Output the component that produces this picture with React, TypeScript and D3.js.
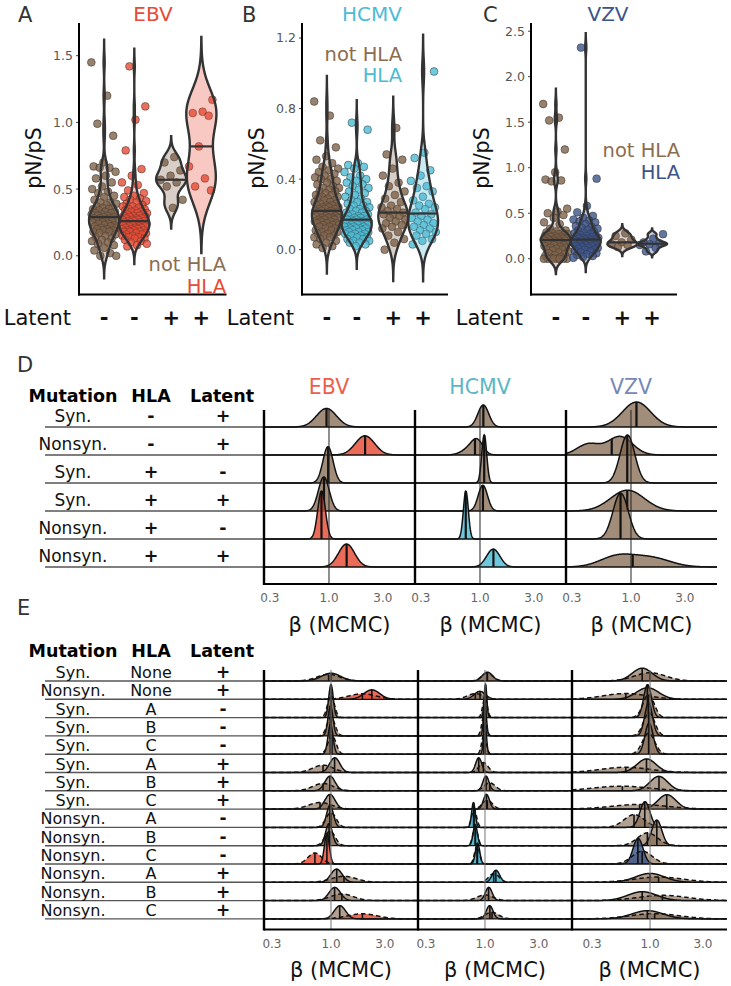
import React from "react";
import * as d3 from "d3";

const FONT = "'DejaVu Sans', Verdana, sans-serif";
const BROWN = "#7E6148";
const BROWN_TXT = "#8B6D52";
const EBV_C = "#E64B35";
const HCMV_C = "#4DBBD5";
const VZV_C = "#3C5488";

// ---------------- Panels A–C : pN/pS values ----------------
const latentLevels = ["-", "+"];
const hlaLevels = ["not HLA", "HLA"];

const ebvNotHlaNeg = [1.45, 1.2, 0.99, 0.9, 0.7, 0.67, 0.66, 0.66, 0.63, 0.6, 0.58, 0.55, 0.52, 0.5, 0.48, 0.47, 0.45, 0.44, 0.42, 0.4, 0.4, 0.39, 0.38, 0.37, 0.36, 0.36, 0.35, 0.35, 0.34, 0.33, 0.33, 0.32, 0.32, 0.31, 0.31, 0.3, 0.3, 0.29, 0.29, 0.28, 0.28, 0.28, 0.27, 0.27, 0.26, 0.26, 0.25, 0.25, 0.24, 0.24, 0.23, 0.23, 0.22, 0.22, 0.21, 0.21, 0.2, 0.2, 0.19, 0.19, 0.18, 0.18, 0.17, 0.16, 0.15, 0.14, 0.13, 0.12, 0.11, 0.1, 0.09, 0.08, 0.06, 0.04, 0.02, 0.0, 0.0];
const ebvHlaNeg = [1.42, 1.12, 1.02, 0.79, 0.65, 0.6, 0.55, 0.53, 0.49, 0.47, 0.45, 0.44, 0.43, 0.42, 0.41, 0.4, 0.39, 0.38, 0.37, 0.37, 0.36, 0.35, 0.35, 0.34, 0.34, 0.33, 0.33, 0.32, 0.32, 0.31, 0.31, 0.3, 0.3, 0.3, 0.29, 0.29, 0.28, 0.28, 0.28, 0.27, 0.27, 0.27, 0.26, 0.26, 0.26, 0.25, 0.25, 0.25, 0.24, 0.24, 0.24, 0.23, 0.23, 0.23, 0.22, 0.22, 0.22, 0.21, 0.21, 0.21, 0.2, 0.2, 0.2, 0.19, 0.19, 0.19, 0.18, 0.18, 0.18, 0.17, 0.17, 0.16, 0.16, 0.15, 0.15, 0.14, 0.14, 0.13, 0.13, 0.12, 0.11, 0.1, 0.09, 0.08, 0.07];
const ebvNotHlaPos = [0.74, 0.7, 0.64, 0.6, 0.57, 0.55, 0.52, 0.42, 0.36];
const ebvHlaPos = [1.17, 1.08, 1.07, 1.05, 0.82, 0.67, 0.58, 0.52, 0.49];

const hcmvNotHlaNeg = [0.84, 0.76, 0.62, 0.58, 0.53, 0.51, 0.49, 0.47, 0.46, 0.45, 0.44, 0.43, 0.42, 0.41, 0.4, 0.4, 0.39, 0.38, 0.37, 0.36, 0.35, 0.35, 0.34, 0.33, 0.33, 0.32, 0.31, 0.31, 0.3, 0.3, 0.29, 0.29, 0.28, 0.28, 0.27, 0.27, 0.26, 0.26, 0.25, 0.25, 0.25, 0.24, 0.24, 0.24, 0.23, 0.23, 0.23, 0.22, 0.22, 0.22, 0.21, 0.21, 0.21, 0.21, 0.2, 0.2, 0.2, 0.2, 0.19, 0.19, 0.19, 0.18, 0.18, 0.18, 0.18, 0.17, 0.17, 0.17, 0.16, 0.16, 0.16, 0.15, 0.15, 0.15, 0.14, 0.14, 0.14, 0.13, 0.13, 0.12, 0.12, 0.11, 0.11, 0.1, 0.1, 0.09, 0.09, 0.08, 0.08, 0.07, 0.07, 0.06, 0.05, 0.04, 0.03, 0.02, 0.01];
const hcmvHlaNeg = [0.72, 0.68, 0.49, 0.48, 0.47, 0.46, 0.44, 0.42, 0.41, 0.4, 0.39, 0.38, 0.37, 0.36, 0.35, 0.34, 0.33, 0.32, 0.31, 0.3, 0.29, 0.28, 0.27, 0.27, 0.26, 0.25, 0.25, 0.24, 0.23, 0.23, 0.22, 0.22, 0.21, 0.21, 0.2, 0.2, 0.19, 0.19, 0.19, 0.18, 0.18, 0.18, 0.17, 0.17, 0.17, 0.17, 0.16, 0.16, 0.16, 0.16, 0.15, 0.15, 0.15, 0.15, 0.14, 0.14, 0.14, 0.14, 0.13, 0.13, 0.13, 0.13, 0.12, 0.12, 0.12, 0.12, 0.11, 0.11, 0.11, 0.1, 0.1, 0.1, 0.09, 0.09, 0.09, 0.08, 0.08, 0.07, 0.07, 0.06, 0.06, 0.05, 0.05, 0.04, 0.04, 0.03, 0.02];
const hcmvNotHlaPos = [0.69, 0.54, 0.51, 0.46, 0.42, 0.38, 0.36, 0.33, 0.31, 0.29, 0.27, 0.25, 0.24, 0.23, 0.22, 0.21, 0.2, 0.2, 0.19, 0.18, 0.17, 0.16, 0.15, 0.14, 0.13, 0.12, 0.1, 0.08, 0.06, 0.04, 0.0];
const hcmvHlaPos = [1.01, 0.55, 0.52, 0.45, 0.42, 0.39, 0.36, 0.35, 0.33, 0.3, 0.28, 0.26, 0.25, 0.24, 0.23, 0.21, 0.2, 0.19, 0.18, 0.17, 0.16, 0.15, 0.14, 0.13, 0.12, 0.11, 0.1, 0.09, 0.08, 0.06, 0.05, 0.03];

const vzvNotHlaNeg = [1.7, 1.55, 1.52, 1.2, 0.95, 0.87, 0.86, 0.85, 0.55, 0.52, 0.5, 0.48, 0.45, 0.4, 0.38, 0.33, 0.31, 0.3, 0.29, 0.28, 0.28, 0.27, 0.27, 0.26, 0.26, 0.25, 0.25, 0.24, 0.24, 0.23, 0.23, 0.22, 0.22, 0.21, 0.21, 0.2, 0.2, 0.2, 0.19, 0.19, 0.18, 0.18, 0.17, 0.17, 0.16, 0.15, 0.15, 0.14, 0.13, 0.12, 0.12, 0.11, 0.1, 0.1, 0.09, 0.08, 0.07, 0.06, 0.05, 0.04, 0.03, 0.02, 0.01, 0.0, 0.0, 0.0, 0.0, 0.0, 0.0, 0.0];
const vzvHlaNeg = [2.32, 0.88, 0.58, 0.51, 0.47, 0.45, 0.43, 0.42, 0.41, 0.4, 0.38, 0.36, 0.35, 0.34, 0.33, 0.32, 0.31, 0.3, 0.29, 0.28, 0.27, 0.26, 0.25, 0.25, 0.24, 0.24, 0.23, 0.23, 0.22, 0.22, 0.21, 0.21, 0.2, 0.2, 0.2, 0.19, 0.19, 0.18, 0.18, 0.17, 0.17, 0.16, 0.16, 0.15, 0.15, 0.14, 0.14, 0.13, 0.12, 0.12, 0.11, 0.1, 0.1, 0.09, 0.08, 0.07, 0.06, 0.05, 0.04, 0.03, 0.02, 0.01];
const vzvNotHlaPos = [0.28, 0.25, 0.21, 0.18, 0.16, 0.15, 0.13];
const vzvHlaPos = [0.27, 0.22, 0.18, 0.17, 0.16, 0.15, 0.12, 0.08];

const ebvTicks = [0, 0.5, 1.0, 1.5];
const hcmvTicks = [0, 0.4, 0.8, 1.2];
const vzvTicks = [0, 0.5, 1.0, 1.5, 2.0, 2.5];

// ---------------- Panel D : β posteriors (median, sd in log10, weight) ----------------
const dMutation = ["Syn.", "Nonsyn.", "Syn.", "Syn.", "Nonsyn.", "Nonsyn."];
const dHla = ["-", "-", "+", "+", "+", "+"];
const dLatent = ["+", "+", "-", "+", "-", "+"];
const dEbvHighlight = [false, true, false, false, true, true];
const dHcmvHighlight = [false, false, false, false, true, true];
const dVzvHighlight = [false, false, false, false, false, false];

type Comp = [number, number, number];
const dEbv: Comp[][] = [
  [[0.95, 0.088, 1]],
  [[2.08, 0.085, 1]],
  [[0.98, 0.045, 1]],
  [[0.9, 0.048, 1]],
  [[0.86, 0.034, 1]],
  [[1.43, 0.071, 1]],
];
const dHcmv: Comp[][] = [
  [[1.07, 0.048, 1]],
  [[0.95, 0.05, 0.55], [0.82, 0.07, 0.45]],
  [[1.09, 0.022, 1]],
  [[1.06, 0.041, 1]],
  [[0.75, 0.022, 1]],
  [[1.31, 0.059, 1]],
];
const dVzv: Comp[][] = [
  [[1.12, 0.125, 1]],
  [[0.42, 0.1, 0.35], [0.8, 0.11, 0.65]],
  [[0.93, 0.065, 1]],
  [[0.93, 0.15, 1]],
  [[0.81, 0.068, 1]],
  [[0.75, 0.15, 0.5], [1.5, 0.17, 0.5]],
];

// ---------------- Panel E : per HLA locus (solid / dashed posteriors) ----------------
const eMutation = ["Syn.", "Nonsyn.", "Syn.", "Syn.", "Syn.", "Syn.", "Syn.", "Syn.", "Nonsyn.", "Nonsyn.", "Nonsyn.", "Nonsyn.", "Nonsyn.", "Nonsyn."];
const eHla = ["None", "None", "A", "B", "C", "A", "B", "C", "A", "B", "C", "A", "B", "C"];
const eLatent = ["+", "+", "-", "-", "-", "+", "+", "+", "-", "-", "-", "+", "+", "+"];

// [median, sd(log10)]
const eEbvSolid = [[1.0, 0.085], [2.3, 0.07], [1.0, 0.02], [0.99, 0.022], [0.99, 0.022], [1.08, 0.045], [0.98, 0.045], [0.98, 0.045], [0.98, 0.03], [0.96, 0.03], [0.92, 0.022], [1.12, 0.05], [1.08, 0.05], [1.2, 0.05]];
const eEbvDashed = [[0.95, 0.1], [1.9, 0.12], [1.0, 0.03], [1.0, 0.035], [1.02, 0.035], [0.85, 0.09], [0.85, 0.09], [0.8, 0.1], [1.0, 0.045], [0.98, 0.045], [0.72, 0.06], [1.3, 0.11], [1.25, 0.1], [1.9, 0.13]];
const eEbvHlSolid = [0, 1, 0, 0, 0, 0, 0, 0, 0, 0, 1, 0, 0, 0];
const eEbvHlDashed = [0, 1, 0, 0, 0, 0, 0, 0, 0, 0, 1, 0, 0, 1];

const eHcmvSolid = [[1.05, 0.045], [0.9, 0.05], [1.01, 0.012], [1.0, 0.013], [1.0, 0.013], [0.88, 0.027], [1.02, 0.027], [1.03, 0.027], [0.79, 0.016], [0.82, 0.019], [0.86, 0.019], [1.25, 0.033], [1.08, 0.03], [1.1, 0.03]];
const eHcmvDashed = [[1.05, 0.05], [0.82, 0.07], [1.0, 0.02], [0.98, 0.02], [0.98, 0.02], [0.97, 0.04], [1.1, 0.05], [1.05, 0.045], [0.8, 0.022], [0.82, 0.022], [0.85, 0.022], [1.2, 0.045], [1.0, 0.07], [1.15, 0.06]];
const eHcmvHlSolid = [0, 0, 0, 0, 0, 0, 0, 0, 1, 1, 1, 1, 0, 0];
const eHcmvHlDashed = [0, 0, 0, 0, 0, 0, 0, 0, 1, 1, 1, 1, 0, 0];

const eVzvSolid = [[0.85, 0.09], [0.95, 0.1], [0.95, 0.035], [0.97, 0.035], [0.98, 0.037], [0.93, 0.085], [1.2, 0.08], [1.42, 0.08], [0.9, 0.045], [1.15, 0.045], [0.78, 0.045], [1.0, 0.13], [0.85, 0.13], [0.95, 0.14]];
const eVzvDashed = [[1.0, 0.14], [0.6, 0.2], [0.97, 0.05], [0.98, 0.05], [0.97, 0.055], [0.6, 0.22], [0.55, 0.25], [0.8, 0.25], [0.72, 0.09], [0.95, 0.09], [0.85, 0.09], [1.2, 0.22], [1.3, 0.22], [1.1, 0.22]];
const eVzvHlSolid = [0, 0, 0, 0, 0, 0, 0, 0, 0, 0, 1, 0, 0, 0];
const eVzvHlDashed = [0, 0, 0, 0, 0, 0, 0, 0, 0, 0, 0, 0, 0, 0];

const betaTicks = [0.3, 1.0, 3.0];

// ---------------- helpers ----------------
function kde(values: number[]) {
  const s = values.slice().sort(d3.ascending);
  const sd = d3.deviation(s) || 0.05;
  const iqr = ((d3.quantile(s, 0.75) as number) - (d3.quantile(s, 0.25) as number)) / 1.34;
  let lo = Math.min(sd, iqr);
  if (!(lo > 0)) lo = sd;
  const bw = 0.9 * lo * Math.pow(s.length, -0.2);
  const min = s[0] - 3 * bw;
  const max = s[s.length - 1] + 3 * bw;
  const n = 200;
  const pts = d3.range(n).map((i) => {
    const y = min + ((max - min) * i) / (n - 1);
    let sum = 0;
    for (const v of s) {
      const z = (y - v) / bw;
      sum += Math.exp(-0.5 * z * z);
    }
    return { y, d: sum };
  });
  const mx = d3.max(pts, (p) => p.d) as number;
  pts.forEach((p) => (p.d /= mx));
  return pts;
}

function mixDensity(comps: Comp[], t: number) {
  let s = 0;
  for (const [mu, sd, w] of comps) {
    const z = (t - Math.log10(mu)) / sd;
    s += (w * Math.exp(-0.5 * z * z)) / (sd * Math.sqrt(2 * Math.PI));
  }
  return s;
}

// ---------------- violin panels ----------------
type VCfg = {
  letter: string; virus: string; color: string; ticks: number[]; domain: [number, number];
  axisX: number; right: number; titleX: number; letterX: number; ylabX: number;
  legendRight: number; legendY: [number, number]; groups: number[][];
};

const violinCfgs: VCfg[] = [
  { letter: "A", virus: "EBV", color: EBV_C, ticks: ebvTicks, domain: [-0.29, 1.745], axisX: 79, right: 226.5, titleX: 153, letterX: 18, ylabX: 41, legendRight: 226, legendY: [271, 293], groups: [ebvNotHlaNeg, ebvHlaNeg, ebvNotHlaPos, ebvHlaPos] },
  { letter: "B", virus: "HCMV", color: HCMV_C, ticks: hcmvTicks, domain: [-0.254, 1.285], axisX: 302, right: 448, titleX: 372, letterX: 242, ylabX: 264, legendRight: 402, legendY: [61, 82], groups: [hcmvNotHlaNeg, hcmvHlaNeg, hcmvNotHlaPos, hcmvHlaPos] },
  { letter: "C", virus: "VZV", color: VZV_C, ticks: vzvTicks, domain: [-0.393, 2.59], axisX: 531, right: 677, titleX: 608, letterX: 483, ylabX: 489, legendRight: 680, legendY: [157, 179], groups: [vzvNotHlaNeg, vzvHlaNeg, vzvNotHlaPos, vzvHlaPos] },
];

const TOP = 23;
const BOTTOM = 294.5;

function ViolinPanel({ c }: { c: VCfg }) {
  const y = d3.scaleLinear().domain(c.domain).range([BOTTOM, TOP]);
  const outer = d3.scalePoint<string>().domain(latentLevels).range([c.axisX, c.right]).padding(0.6);
  const step = outer.step();
  const inner = d3.scalePoint<string>().domain(hlaLevels).range([-0.225 * step, 0.225 * step]);
  const halfW = 0.225 * step;
  const jw = 0.85 * halfW;
  const groups = c.groups.map((vals, gi) => {
    const lat = latentLevels[Math.floor(gi / 2)];
    const hla = hlaLevels[gi % 2];
    const cx = (outer(lat) as number) + (inner(hla) as number);
    const col = hla === "HLA" ? c.color : BROWN;
    const dens = kde(vals);
    const med = d3.median(vals) as number;
    let wMed = 0;
    for (let i = 1; i < dens.length; i++) {
      if (dens[i].y >= med) {
        const a = dens[i - 1], b = dens[i];
        const f = (med - a.y) / (b.y - a.y);
        wMed = (a.d + f * (b.d - a.d)) * halfW;
        break;
      }
    }
    const area = d3.area<{ y: number; d: number }>()
      .y((p) => y(p.y))
      .x0((p) => cx - p.d * halfW)
      .x1((p) => cx + p.d * halfW)
      .curve(d3.curveBasis);
    return { vals, cx, col, dens, med, wMed, path: area(dens) as string };
  });
  return (
    <g>
      <text x={c.letterX} y={22} fontSize={21} fill="#333">{c.letter}</text>
      <text x={c.titleX} y={21} fontSize={20} fill={c.color} textAnchor="middle">{c.virus}</text>
      <text transform={`translate(${c.ylabX},158) rotate(-90)`} fontSize={20.5} fill="#111" textAnchor="middle">pN/pS</text>
      {c.ticks.map((t) => (
        <g key={t}>
          <line x1={c.axisX - 3} x2={c.axisX} y1={y(t)} y2={y(t)} stroke="#444" strokeWidth={1} />
          <text x={c.axisX - 6} y={y(t)} dy="0.36em" fontSize={12.5} fill="#555" textAnchor="end">{d3.format(".1f")(t)}</text>
        </g>
      ))}
      {groups.map((g, gi) => (
        <g key={"p" + gi}>
          {g.vals.map((v, i) => (
            <circle key={i} cx={g.cx + (((i * 0.618034 + 0.31 * gi) % 1) - 0.5) * 2 * jw} cy={y(v)} r={3.9}
              fill={g.col} fillOpacity={0.8} stroke="#2a2a2a" strokeOpacity={0.8} strokeWidth={0.6} />
          ))}
        </g>
      ))}
      {groups.map((g, gi) => (
        <g key={"v" + gi}>
          <path d={g.path} fill={g.col} fillOpacity={0.3} stroke="#333" strokeWidth={2.4} />
          <line x1={g.cx - g.wMed} x2={g.cx + g.wMed} y1={y(g.med)} y2={y(g.med)} stroke="#333" strokeWidth={2.2} />
        </g>
      ))}
      <line x1={c.axisX} x2={c.axisX} y1={TOP} y2={BOTTOM + 1} stroke="#000" strokeWidth={2} />
      <line x1={c.axisX - 1} x2={c.right} y1={BOTTOM} y2={BOTTOM} stroke="#000" strokeWidth={2} />
      <text x={c.legendRight} y={c.legendY[0]} fontSize={19.5} fill={BROWN_TXT} textAnchor="end">not HLA</text>
      <text x={c.legendRight} y={c.legendY[1]} fontSize={19.5} fill={c.color} textAnchor="end">HLA</text>
      <text x={c.axisX - 8} y={325} fontSize={21} fill="#111" textAnchor="end">Latent</text>
      {groups.map((g, gi) => (
        <text key={"l" + gi} x={g.cx} y={325} fontSize={21} fontWeight="bold" fill="#111" textAnchor="middle">
          {latentLevels[Math.floor(gi / 2)]}
        </text>
      ))}
    </g>
  );
}

// ---------------- ridge panels ----------------
type Curve = { row: number; comps: Comp[]; hl: boolean; dashed: boolean };
type RCfg = {
  id: string; x0: number; x1: number; domain: [number, number]; color: string; curves: Curve[];
};

function RidgePanel({ p, rowsY, hmax, axisTop, axisBottom, tickY, axisTitleY, fillAlpha, vlineColor, medianWidth }: {
  p: RCfg; rowsY: number[]; hmax: number; axisTop: number; axisBottom: number; tickY: number; axisTitleY: number;
  fillAlpha: number; vlineColor: string; medianWidth: number;
}) {
  const x = d3.scaleLog().domain(p.domain).range([p.x0, p.x1]);
  const t0 = Math.log10(p.domain[0]);
  const t1 = Math.log10(p.domain[1]);
  const N = 360;
  const ts = d3.range(N + 1).map((i) => t0 + ((t1 - t0) * i) / N);
  const dens = p.curves.map((c) => ts.map((t) => mixDensity(c.comps, t)));
  const maxD = d3.max(dens, (a) => d3.max(a) as number) as number;
  const k = hmax / maxD;
  const clipId = "clip-" + p.id;
  const nRows = rowsY.length;
  return (
    <g>
      <defs>
        <clipPath id={clipId}>
          <rect x={p.x0} y={0} width={p.x1 - p.x0} height={axisBottom} />
        </clipPath>
      </defs>
      <g clipPath={`url(#${clipId})`}>
        {d3.range(nRows).map((r) => {
          const base = rowsY[r];
          const items = p.curves.map((c, ci) => ({ c, ci })).filter((o) => o.c.row === r)
            .sort((a, b) => (a.c.dashed === b.c.dashed ? 0 : a.c.dashed ? -1 : 1));
          return (
            <g key={r}>
              {items.map(({ c, ci }) => {
                const d = dens[ci];
                const area = d3.area<number>().x((_, i) => x(Math.pow(10, ts[i]))).y0(base).y1((v) => base - v * k)(d) as string;
                return <path key={"f" + ci} d={area} fill={c.hl ? p.color : BROWN} fillOpacity={c.hl ? 0.82 : fillAlpha} stroke="none" />;
              })}
              <line x1={p.x0} x2={p.x1} y1={base} y2={base} stroke="#111" strokeWidth={1.3} />
              {items.map(({ c, ci }) => {
                const d = dens[ci];
                const line = d3.line<number>().x((_, i) => x(Math.pow(10, ts[i]))).y((v) => base - v * k)(d) as string;
                const total = d3.sum(d);
                let cum = 0, mi = 0;
                for (let i = 0; i < d.length; i++) { cum += d[i]; if (cum >= total / 2) { mi = i; break; } }
                const mx = x(Math.pow(10, ts[mi]));
                return (
                  <g key={"o" + ci}>
                    <path d={line} fill="none" stroke="#111" strokeWidth={1.5} strokeDasharray={c.dashed ? "4.5 3" : undefined} />
                    <line x1={mx} x2={mx} y1={base} y2={base - d[mi] * k} stroke="#111" strokeWidth={medianWidth} />
                  </g>
                );
              })}
            </g>
          );
        })}
        <line x1={x(1)} x2={x(1)} y1={axisTop} y2={axisBottom} stroke={vlineColor} strokeWidth={1} />
      </g>
      <line x1={p.x0} x2={p.x0} y1={axisTop} y2={axisBottom + 1} stroke="#000" strokeWidth={2.4} />
      <line x1={p.x0} x2={p.x1} y1={axisBottom} y2={axisBottom} stroke="#000" strokeWidth={2} />
      {betaTicks.map((t) => (
        <text key={t} x={x(t)} y={tickY} fontSize={12} fill="#666" textAnchor="middle">{d3.format(".1f")(t)}</text>
      ))}
      <text x={(p.x0 + p.x1) / 2} y={axisTitleY} fontSize={21} fill="#111" textAnchor="middle">β (MCMC)</text>
    </g>
  );
}

function Table({ header, rowsY, mut, hla, lat, lineEnd, textOffset, fontSize, symSize }: {
  header: number; rowsY: number[]; mut: string[]; hla: string[]; lat: string[]; lineEnd: number; textOffset: number; fontSize: number; symSize: number;
}) {
  const sym = (s: string) => s === "+" || s === "-";
  return (
    <g>
      <text x={73} y={header} fontSize={17.5} fontWeight="bold" textAnchor="middle" fill="#000">Mutation</text>
      <text x={151} y={header} fontSize={17.5} fontWeight="bold" textAnchor="middle" fill="#000">HLA</text>
      <text x={222} y={header} fontSize={17.5} fontWeight="bold" textAnchor="middle" fill="#000">Latent</text>
      {rowsY.map((ry, i) => (
        <g key={i}>
          <line x1={45} x2={lineEnd} y1={ry} y2={ry} stroke="#555" strokeWidth={1.4} />
          <text x={73} y={ry - textOffset} fontSize={fontSize} textAnchor="middle" fill="#111">{mut[i]}</text>
          <text x={151} y={ry - textOffset} fontSize={sym(hla[i]) ? symSize : fontSize} fontWeight={sym(hla[i]) ? "bold" : "normal"} textAnchor="middle" fill="#111">{hla[i]}</text>
          <text x={223} y={ry - textOffset} fontSize={symSize} fontWeight="bold" textAnchor="middle" fill="#111">{lat[i]}</text>
        </g>
      ))}
    </g>
  );
}

function buildD(data: Comp[][], hl: boolean[]): Curve[] {
  return data.map((comps, r) => ({ row: r, comps, hl: hl[r], dashed: false }));
}
function buildE(solid: number[][], dashed: number[][], hs: number[], hd: number[]): Curve[] {
  const out: Curve[] = [];
  solid.forEach((s, r) => {
    out.push({ row: r, comps: [[dashed[r][0], dashed[r][1], 1]], hl: !!hd[r], dashed: true });
    out.push({ row: r, comps: [[s[0], s[1], 1]], hl: !!hs[r], dashed: false });
  });
  return out;
}

const dRowsY = d3.range(6).map((i) => 427 + i * 28);
const eRowsY = d3.range(14).map((i) => 681 + i * 18.3);

const dPanels: RCfg[] = [
  { id: "dE", x0: 264, x1: 415, domain: [0.266, 5.77], color: EBV_C, curves: buildD(dEbv, dEbvHighlight) },
  { id: "dH", x0: 415, x1: 566, domain: [0.266, 5.77], color: HCMV_C, curves: buildD(dHcmv, dHcmvHighlight) },
  { id: "dV", x0: 566, x1: 717, domain: [0.266, 5.77], color: VZV_C, curves: buildD(dVzv, dVzvHighlight) },
];
const dTitles = [
  { name: "EBV", color: "#EC5F4B" },
  { name: "HCMV", color: "#5CB6C6" },
  { name: "VZV", color: "#7788B8" },
];
const ePanels: RCfg[] = [
  { id: "eE", x0: 264, x1: 418, domain: [0.255, 5.9], color: EBV_C, curves: buildE(eEbvSolid, eEbvDashed, eEbvHlSolid, eEbvHlDashed) },
  { id: "eH", x0: 418, x1: 572, domain: [0.255, 5.9], color: HCMV_C, curves: buildE(eHcmvSolid, eHcmvDashed, eHcmvHlSolid, eHcmvHlDashed) },
  { id: "eV", x0: 572, x1: 727, domain: [0.198, 4.94], color: VZV_C, curves: buildE(eVzvSolid, eVzvDashed, eVzvHlSolid, eVzvHlDashed) },
];

export default function App() {
  return (
    <svg width={731} height={986} viewBox="0 0 731 986" fontFamily={FONT}
      style={{ position: "absolute", left: 0, top: 0, display: "block", background: "#fff" }}>
      <rect x={0} y={0} width={731} height={986} fill="#fff" />
      {violinCfgs.map((c) => <ViolinPanel key={c.letter} c={c} />)}

      {/* Panel D */}
      <text x={17} y={372} fontSize={21} fill="#333">D</text>
      <Table header={402} rowsY={dRowsY} mut={dMutation} hla={dHla} lat={dLatent} lineEnd={264} textOffset={5} fontSize={17} symSize={17.5} />
      {dPanels.map((p, i) => (
        <g key={p.id}>
          <text x={p.x0 + 65} y={394} fontSize={20.5} fill={dTitles[i].color} textAnchor="middle">{dTitles[i].name}</text>
          <RidgePanel p={p} rowsY={dRowsY} hmax={48} axisTop={410} axisBottom={584} tickY={602} axisTitleY={632}
            fillAlpha={0.72} vlineColor="#222" medianWidth={2.2} />
        </g>
      ))}

      {/* Panel E */}
      <text x={17} y={615} fontSize={21} fill="#333">E</text>
      <Table header={657} rowsY={eRowsY} mut={eMutation} hla={eHla} lat={eLatent} lineEnd={264} textOffset={3} fontSize={16} symSize={17} />
      {ePanels.map((p) => (
        <RidgePanel key={p.id} p={p} rowsY={eRowsY} hmax={33} axisTop={670} axisBottom={929.5} tickY={948} axisTitleY={977}
          fillAlpha={0.6} vlineColor="#777" medianWidth={1.6} />
      ))}
    </svg>
  );
}
